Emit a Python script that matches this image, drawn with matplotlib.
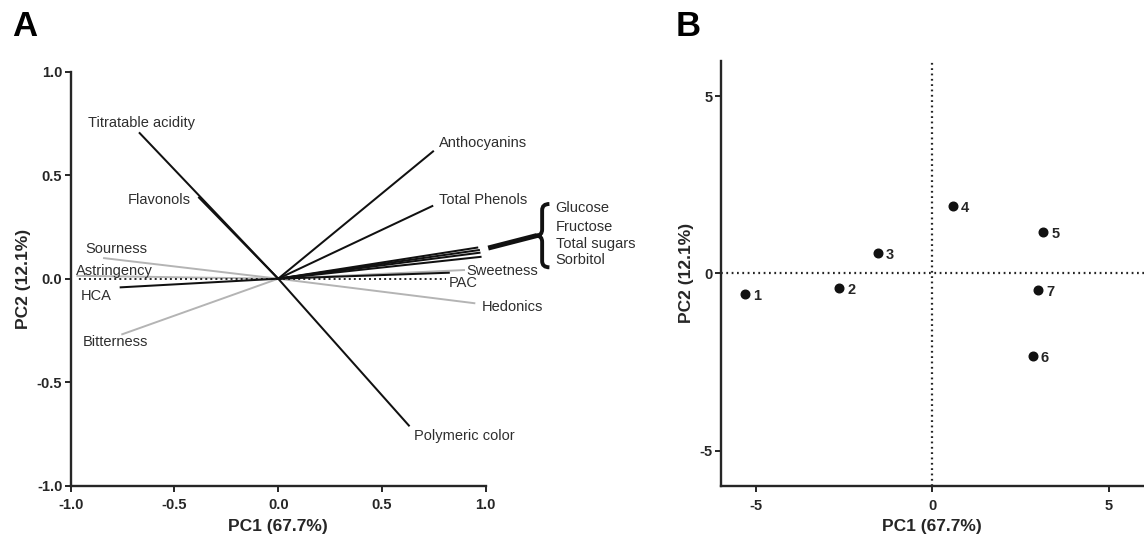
import numpy as np
import matplotlib
matplotlib.use('Agg')
import matplotlib.pyplot as plt
from matplotlib.path import Path
from matplotlib.patches import PathPatch

plt.rcParams['font.family'] = ['Liberation Sans', 'DejaVu Sans']
plt.rcParams['axes.unicode_minus'] = False

# panel A: loadings, chemical variables (black)
chem_names = ['Titratable acidity', 'Flavonols', 'Anthocyanins', 'Total Phenols',
              'Glucose', 'Fructose', 'Total sugars', 'Sorbitol',
              'Polymeric color', 'HCA', '']
chem_pc1 = [-0.671, -0.385, 0.750, 0.747, 0.964, 0.972, 0.975, 0.980, 0.633, -0.764, 0.827]
chem_pc2 = [0.707, 0.395, 0.618, 0.353, 0.151, 0.139, 0.126, 0.106, -0.713, -0.042, 0.029]

# sensory variables (grey)
sens_names = ['Sourness', 'Astringency', 'Bitterness', 'Sweetness', 'Hedonics']
sens_pc1 = [-0.844, -0.972, -0.756, 0.900, 0.950]
sens_pc2 = [0.100, 0.014, -0.270, 0.042, -0.119]

# PAC (dotted)
pac_pc1 = [-0.97, 0.81]
pac_pc2 = [0.0, 0.0]

sugar_names = ['Glucose', 'Fructose', 'Total sugars', 'Sorbitol']

# where each label sits (left edge, centre)
label_pos = {
    'Titratable acidity': (-0.918, 0.750),
    'Flavonols': (-0.727, 0.382),
    'Anthocyanins': (0.776, 0.656),
    'Total Phenols': (0.776, 0.382),
    'Glucose': (1.337, 0.343),
    'Fructose': (1.337, 0.251),
    'Total sugars': (1.337, 0.169),
    'Sorbitol': (1.337, 0.089),
    'Polymeric color': (0.654, -0.758),
    'HCA': (-0.953, -0.082),
    'Sourness': (-0.928, 0.143),
    'Astringency': (-0.976, 0.035),
    'Bitterness': (-0.944, -0.308),
    'Sweetness': (0.905, 0.039),
    'Hedonics': (0.981, -0.139),
    'PAC': (0.824, -0.023),
}

# panel B: scores
sample_ids = ['1', '2', '3', '4', '5', '6', '7']
score_pc1 = [-5.32, -2.65, -1.55, 0.575, 3.14, 2.84, 3.00]
score_pc2 = [-0.574, -0.40, 0.584, 1.91, 1.18, -2.33, -0.457]

ink = '#262626'

fig = plt.figure(figsize=(11.44, 5.4), dpi=100)
axA = fig.add_axes([70.7 / 1144, 54.3 / 540, 415 / 1144, 414 / 540])
axB = fig.add_axes([720.7 / 1144, 54.0 / 540, 423.3 / 1144, 425.3 / 540])


def style(ax):
    for s in ['top', 'right']:
        ax.spines[s].set_visible(False)
    for s in ['left', 'bottom']:
        ax.spines[s].set_linewidth(1.7)
        ax.spines[s].set_color(ink)
    ax.tick_params(direction='out', length=4, width=1.4, color=ink,
                   labelcolor=ink, labelsize=10.5, pad=2)
    ax.tick_params(axis='x', pad=5)
    for lbl in ax.get_xticklabels() + ax.get_yticklabels():
        lbl.set_fontweight('bold')


# ---- panel A ----
for x, y in zip(sens_pc1, sens_pc2):
    axA.plot([0, x], [0, y], color='#b4b4b4', lw=1.4, solid_capstyle='butt')
axA.plot([0, pac_pc1[0]], [0, pac_pc2[0]], color=ink, lw=1.4, linestyle=(0, (1, 1.6)))
axA.plot([0, pac_pc1[1]], [0, pac_pc2[1]], color=ink, lw=1.4, linestyle=(0, (1, 1.6)))
for x, y in zip(chem_pc1, chem_pc2):
    axA.plot([0, x], [0, y], color='#111111', lw=1.45, solid_capstyle='butt')

for name in chem_names + sens_names + ['PAC']:
    if name == '' or name not in label_pos:
        continue
    lx, ly = label_pos[name]
    axA.text(lx, ly, name, fontsize=10.5, color='#2e2e2e', ha='left', va='center')

# bracket for the sugars
axA.plot([1.012, 1.245], [0.148, 0.208], color='#111111', lw=3.6,
         solid_capstyle='butt', clip_on=False)
x0, tip, d, r = 1.272, 1.242, 0.035, 0.03
top, bot = 0.361, 0.055
mid = 0.208
verts = [(x0 + d, top), (x0, top), (x0, top - r), (x0, mid + r),
         (x0, mid), (tip, mid), (x0, mid), (x0, mid - r),
         (x0, bot + r), (x0, bot), (x0 + d, bot)]
codes = [Path.MOVETO, Path.CURVE3, Path.CURVE3, Path.LINETO,
         Path.CURVE3, Path.CURVE3, Path.CURVE3, Path.CURVE3,
         Path.LINETO, Path.CURVE3, Path.CURVE3]
axA.add_patch(PathPatch(Path(verts, codes), fill=False, lw=2.8,
                        edgecolor='#111111', clip_on=False))

axA.set_xlim(-1, 1)
axA.set_ylim(-1, 1)
axA.set_xticks([-1.0, -0.5, 0.0, 0.5, 1.0])
axA.set_yticks([-1.0, -0.5, 0.0, 0.5, 1.0])
axA.set_xticklabels(['-1.0', '-0.5', '0.0', '0.5', '1.0'])
axA.set_yticklabels(['-1.0', '-0.5', '0.0', '0.5', '1.0'])
style(axA)
axA.set_xlabel('PC1 (67.7%)', fontsize=12.5, fontweight='bold', color=ink, labelpad=5)
axA.set_ylabel('PC2 (12.1%)', fontsize=12.5, fontweight='bold', color=ink, labelpad=4)

# ---- panel B ----
axB.axhline(0, color=ink, lw=1.6, linestyle=(0, (0.8, 1.6)), zorder=1)
axB.axvline(0, color=ink, lw=1.6, linestyle=(0, (0.8, 1.6)), zorder=1)
axB.plot(score_pc1, score_pc2, 'o', color='#111111', markersize=6.2, zorder=3)
for sid, x, y in zip(sample_ids, score_pc1, score_pc2):
    axB.annotate(sid, (x, y), xytext=(6, -1.5), textcoords='offset points',
                 ha='left', va='center', fontsize=10.5, fontweight='bold', color=ink)
axB.set_xlim(-6, 6)
axB.set_ylim(-6, 6)
axB.set_xticks([-5, 0, 5])
axB.set_yticks([-5, 0, 5])
axB.set_xticklabels(['-5', '0', '5'])
axB.set_yticklabels(['-5', '0', '5'])
style(axB)
axB.set_xlabel('PC1 (67.7%)', fontsize=12.5, fontweight='bold', color=ink, labelpad=5)
axB.set_ylabel('PC2 (12.1%)', fontsize=12.5, fontweight='bold', color=ink, labelpad=4)

fig.text(11.7 / 1144, 1 - 36 / 540, 'A', fontsize=25, fontweight='bold', va='baseline')
fig.text(676 / 1144, 1 - 36 / 540, 'B', fontsize=25, fontweight='bold', va='baseline')

fig.savefig('out.png', dpi=100)
